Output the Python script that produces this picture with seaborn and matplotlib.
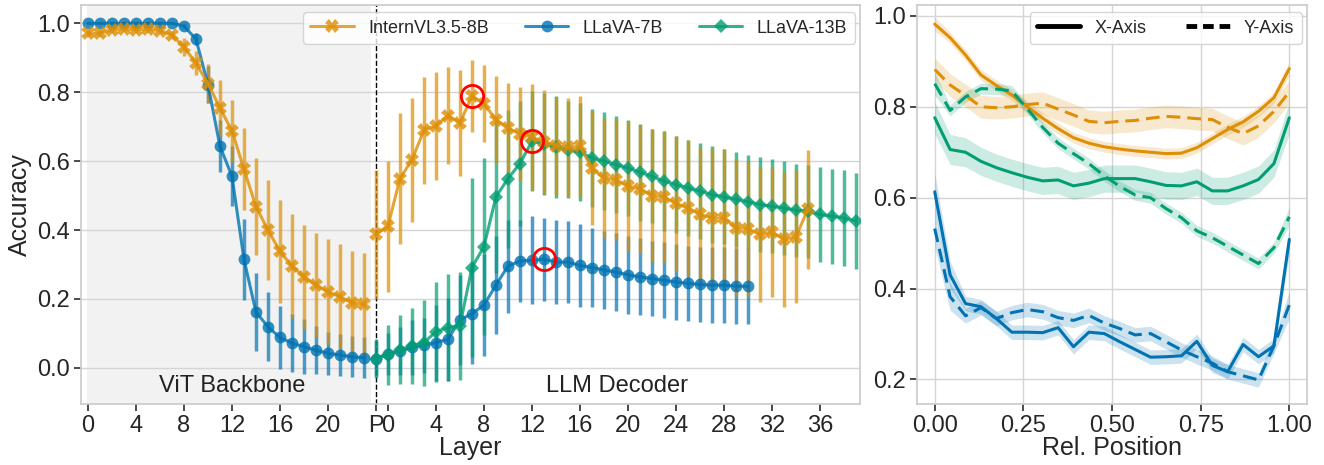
import matplotlib
matplotlib.use("Agg")
import matplotlib.pyplot as plt
import numpy as np
import seaborn as sns

# ---- left panel: layer-wise accuracy (mean, std) ----
vit_layers = np.arange(24)
intern_vit = [0.971, 0.971, 0.981, 0.984, 0.981, 0.983, 0.979, 0.966, 0.931, 0.884, 0.825, 0.754,
              0.688, 0.577, 0.468, 0.400, 0.338, 0.295, 0.264, 0.240, 0.221, 0.206, 0.189, 0.184]
intern_vit_sd = [0.01, 0.01, 0.01, 0.01, 0.01, 0.01, 0.01, 0.012, 0.025, 0.035, 0.057, 0.08,
                 0.09, 0.12, 0.14, 0.146, 0.15, 0.15, 0.15, 0.152, 0.152, 0.152, 0.149, 0.15]
llava_vit = [1.0, 1.0, 1.0, 1.0, 1.0, 1.0, 1.0, 1.0, 0.992, 0.954, 0.822, 0.643,
             0.556, 0.315, 0.162, 0.119, 0.088, 0.072, 0.061, 0.051, 0.042, 0.037, 0.032, 0.029]
llava_vit_sd = [0.003, 0.003, 0.003, 0.003, 0.003, 0.003, 0.003, 0.003, 0.006, 0.017, 0.053, 0.075,
                0.087, 0.118, 0.112, 0.10, 0.09, 0.085, 0.08, 0.07, 0.063, 0.06, 0.06, 0.06]

# LLM part: first value is the projector "P", then decoder layers 0..N-1
intern_llm = [0.387, 0.411, 0.549, 0.604, 0.689, 0.703, 0.732, 0.711, 0.788, 0.767, 0.720, 0.696,
              0.679, 0.670, 0.655, 0.645, 0.640, 0.643, 0.580, 0.551, 0.546, 0.527, 0.520, 0.500,
              0.496, 0.477, 0.464, 0.445, 0.435, 0.435, 0.407, 0.404, 0.387, 0.394, 0.373, 0.380, 0.460]
intern_llm_sd = [0.186, 0.19, 0.19, 0.18, 0.155, 0.157, 0.14, 0.153, 0.104, 0.112, 0.126, 0.13,
                 0.136, 0.153, 0.15, 0.142, 0.144, 0.146, 0.165, 0.174, 0.176, 0.188, 0.186, 0.193,
                 0.19, 0.195, 0.198, 0.195, 0.2, 0.2, 0.2, 0.196, 0.196, 0.188, 0.196, 0.193, 0.172]
llava7_llm = [0.027, 0.040, 0.049, 0.059, 0.066, 0.073, 0.083, 0.139, 0.157, 0.182, 0.240, 0.295,
              0.310, 0.312, 0.315, 0.307, 0.307, 0.297, 0.291, 0.284, 0.278, 0.270, 0.264, 0.259,
              0.254, 0.249, 0.245, 0.242, 0.240, 0.240, 0.237, 0.237]
llava7_llm_sd = [0.05, 0.06, 0.07, 0.08, 0.08, 0.11, 0.12, 0.13, 0.146, 0.147, 0.143, 0.135,
                 0.12, 0.128, 0.12, 0.123, 0.12, 0.12, 0.115, 0.112, 0.112, 0.113, 0.112, 0.11,
                 0.11, 0.11, 0.11, 0.11, 0.11, 0.11, 0.11, 0.11]
llava13_llm = [0.027, 0.037, 0.052, 0.064, 0.073, 0.105, 0.117, 0.122, 0.291, 0.352, 0.496, 0.549,
               0.593, 0.657, 0.651, 0.641, 0.633, 0.626, 0.609, 0.600, 0.590, 0.580, 0.568, 0.556,
               0.542, 0.532, 0.522, 0.513, 0.503, 0.496, 0.489, 0.482, 0.474, 0.469, 0.464, 0.457,
               0.455, 0.445, 0.440, 0.435, 0.426]
llava13_llm_sd = [0.058, 0.087, 0.1, 0.11, 0.125, 0.145, 0.154, 0.157, 0.26, 0.257, 0.22, 0.2,
                  0.18, 0.145, 0.148, 0.148, 0.14, 0.142, 0.142, 0.142, 0.14, 0.138, 0.141, 0.137,
                  0.144, 0.14, 0.14, 0.14, 0.14, 0.138, 0.138, 0.137, 0.137, 0.137, 0.137, 0.135,
                  0.135, 0.137, 0.138, 0.139, 0.14]

# ---- right panel: accuracy vs relative position ----
rel_pos = np.arange(24) / 23
intern_x = [0.982, 0.952, 0.914, 0.870, 0.847, 0.826, 0.800, 0.775, 0.752, 0.732, 0.720, 0.712,
            0.707, 0.703, 0.700, 0.697, 0.698, 0.710, 0.730, 0.750, 0.767, 0.790, 0.820, 0.884]
intern_y = [0.882, 0.848, 0.825, 0.800, 0.798, 0.800, 0.805, 0.808, 0.795, 0.782, 0.768, 0.765,
            0.768, 0.770, 0.775, 0.779, 0.777, 0.774, 0.772, 0.755, 0.741, 0.758, 0.790, 0.833]
llava13_x = [0.776, 0.706, 0.700, 0.680, 0.666, 0.655, 0.645, 0.637, 0.639, 0.626, 0.632, 0.642,
             0.642, 0.642, 0.635, 0.627, 0.626, 0.635, 0.615, 0.615, 0.626, 0.640, 0.675, 0.776]
llava13_y = [0.851, 0.792, 0.822, 0.840, 0.839, 0.835, 0.796, 0.755, 0.720, 0.697, 0.675, 0.648,
             0.625, 0.606, 0.600, 0.576, 0.556, 0.527, 0.512, 0.493, 0.474, 0.455, 0.490, 0.558]
llava7_x = [0.613, 0.430, 0.367, 0.360, 0.334, 0.304, 0.304, 0.303, 0.314, 0.272, 0.304, 0.301,
            0.283, 0.266, 0.249, 0.250, 0.252, 0.284, 0.231, 0.217, 0.277, 0.250, 0.274, 0.508]
llava7_y = [0.532, 0.382, 0.340, 0.358, 0.334, 0.347, 0.354, 0.349, 0.336, 0.330, 0.341, 0.324,
            0.312, 0.298, 0.301, 0.283, 0.265, 0.250, 0.236, 0.217, 0.208, 0.199, 0.274, 0.364]
# half-widths of the shaded bands
intern_x_ci = [0.015] + [0.012] * 22 + [0.015]
intern_y_ci = [0.025] * 24
llava13_x_ci = [0.035, 0.033, 0.032, 0.031] + [0.03] * 19 + [0.035]
llava13_y_ci = [0.025] + [0.012] * 22 + [0.02]
llava7_x_ci = [0.04, 0.03] + [0.016] * 21 + [0.03]
llava7_y_ci = [0.04, 0.03] + [0.016] * 21 + [0.03]

models = ["InternVL3.5-8B", "LLaVA-7B", "LLaVA-13B"]
pal = sns.color_palette("colorblind")
c_int, c_l7, c_l13 = pal[1], pal[0], pal[2]

sns.set_theme(style="whitegrid", rc={"xtick.bottom": True, "ytick.left": True,
                                     "axes.edgecolor": "#cccccc", "grid.color": "#d5d5d5"})
plt.rcParams["font.family"] = ["Liberation Sans", "DejaVu Sans"]

fig = plt.figure(figsize=(13.24, 4.65), dpi=100)
ax = fig.add_axes([0.0612, 0.1312, 0.5884, 0.858])
ax2 = fig.add_axes([0.6926, 0.1312, 0.2946, 0.858])

# left
ax.axvspan(-0.05, 23.55, color="#f2f2f2", zorder=0, lw=0)
ax.axvline(24, color="black", ls="--", lw=1, zorder=1)

# (name, colour, marker, size, vit mean, vit sd, llm mean, llm sd, bar z, line z)
series = [
    (models[0], c_int, "X", 9.5, intern_vit, intern_vit_sd, intern_llm, intern_llm_sd, 2.3, 3.3),
    (models[1], c_l7, "o", 8.5, llava_vit, llava_vit_sd, llava7_llm, llava7_llm_sd, 2.1, 3.1),
    (models[2], c_l13, "D", 7, None, None, llava13_llm, llava13_llm_sd, 2.2, 3.2),
]
for name, col, mk, ms, vit, vit_sd, llm, llm_sd, zb, zl in series:
    llm_x = 24 + np.arange(len(llm))
    parts = [(llm_x, llm, llm_sd)]
    if vit is not None:
        parts.insert(0, (vit_layers, vit, vit_sd))
    for j, (xx, yy, sd) in enumerate(parts):
        ax.errorbar(xx, yy, yerr=sd, fmt="none", ecolor=col, elinewidth=2.5, alpha=0.7, zorder=zb)
        sns.lineplot(x=xx, y=yy, ax=ax, color=col, marker=mk, markersize=ms, markeredgewidth=0,
                     lw=2.2, alpha=0.8, label=name if j == len(parts) - 1 else None, zorder=zl)

# red circles at decoder peak layers
for llm in [intern_llm, llava13_llm, llava7_llm]:
    k = int(np.argmax(llm))
    ax.plot(24 + k, llm[k], "o", mfc="none", mec="red", ms=16, mew=2, zorder=5)

ax.text(12, -0.052, "ViT Backbone", ha="center", va="center", fontsize=17, color="#222222")
ax.text(44.1, -0.052, "LLM Decoder", ha="center", va="center", fontsize=17, color="#222222")

ticks = list(range(0, 24, 4)) + [24] + [25 + k for k in range(0, 40, 4)]
labels = [str(t) for t in range(0, 24, 4)] + ["P"] + [str(k) for k in range(0, 40, 4)]
ax.set_xticks(ticks)
ax.set_xticklabels(labels)
ax.set_xlim(-0.58, 64.35)
ax.set_ylim(-0.105, 1.053)
ax.set_yticks([0.0, 0.2, 0.4, 0.6, 0.8, 1.0])
ax.grid(axis="x", visible=False)
ax.tick_params(labelsize=17, length=5, color="#333333", pad=3)
ax.set_xlabel("Layer", fontsize=18, labelpad=-1)
ax.set_ylabel("Accuracy", fontsize=18, labelpad=4)
ax.legend(loc="upper right", ncol=3, fontsize=13, handlelength=2.4, columnspacing=2.0,
          bbox_to_anchor=(1.0, 0.995), borderaxespad=0.3)

# right
for yx, yy, cx, cy, col in [(intern_x, intern_y, intern_x_ci, intern_y_ci, c_int),
                            (llava13_x, llava13_y, llava13_x_ci, llava13_y_ci, c_l13),
                            (llava7_x, llava7_y, llava7_x_ci, llava7_y_ci, c_l7)]:
    for vals, ci, ls in [(yx, cx, "-"), (yy, cy, "--")]:
        vals = np.array(vals)
        ci = np.array(ci)
        ax2.fill_between(rel_pos, vals - ci, vals + ci, color=col, alpha=0.2, lw=0)
        line = sns.lineplot(x=rel_pos, y=vals, ax=ax2, color=col, lw=2.2, linestyle=ls)
        if ls == "--":
            ax2.lines[-1].set_dashes((4.5, 2.3))

ax2.plot([], [], color="black", lw=3.5, ls="-", label="X-Axis")
ax2.plot([], [], color="black", lw=3.5, ls=(0, (2.2, 1.2)), label="Y-Axis")
ax2.legend(loc="upper right", ncol=2, fontsize=13, handlelength=2.4, columnspacing=2.2,
           bbox_to_anchor=(1.0, 0.995), borderaxespad=0.3)
ax2.set_xlim(-0.05, 1.05)
ax2.set_ylim(0.146, 1.024)
ax2.set_xticks([0.0, 0.25, 0.5, 0.75, 1.0])
ax2.set_xticklabels(["0.00", "0.25", "0.50", "0.75", "1.00"])
ax2.set_yticks([0.2, 0.4, 0.6, 0.8, 1.0])
ax2.tick_params(labelsize=17, length=5, color="#333333", pad=3)
ax2.set_xlabel("Rel. Position", fontsize=18, labelpad=-1)
ax2.set_ylabel("")

fig.savefig("out.png", dpi=100)
